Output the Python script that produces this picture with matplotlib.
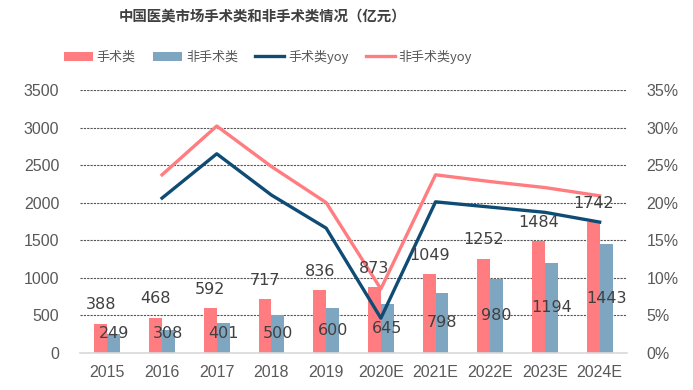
import matplotlib
matplotlib.use("Agg")
import matplotlib.pyplot as plt
import numpy as np
from matplotlib.ticker import FuncFormatter

plt.rcParams['font.family'] = ['Noto Sans CJK SC', 'DejaVu Sans']

years = ["2015", "2016", "2017", "2018", "2019", "2020E", "2021E", "2022E", "2023E", "2024E"]
surgical = [388, 468, 592, 717, 836, 873, 1049, 1252, 1484, 1742]
nonsurgical = [249, 308, 401, 500, 600, 645, 798, 980, 1194, 1443]
surgical_yoy = [None, 20.6, 26.5, 21.0, 16.6, 4.6, 20.1, 19.4, 18.7, 17.4]
nonsurgical_yoy = [None, 23.7, 30.2, 24.8, 20.0, 8.5, 23.7, 22.8, 22.0, 20.9]

red = "#FF7C80"
blue = "#7FA6C0"
dark = "#0F4C75"
pink = "#FF7C80"
txt = "#404040"
tick_c = "#595959"
num_font = ["Liberation Sans", "DejaVu Sans"]

fig = plt.figure(figsize=(6.93, 3.90), dpi=100)
ax = fig.add_axes([80/693, 1-352.7/390, (627-80)/693, (352.7-90)/390])
ax2 = ax.twinx()

x = np.arange(len(years))
w = 0.235
ax.bar(x - w/2, surgical, w, color=red, zorder=2, label="手术类")
ax.bar(x + w/2, nonsurgical, w, color=blue, zorder=2, label="非手术类")

ax.set_xlim(-0.5, len(years) - 0.5)
ax.set_ylim(0, 3500)
ax.set_yticks(np.arange(0, 3501, 500))
ax.yaxis.grid(True, linestyle=(0, (2, 1)), color="#555555", linewidth=0.8, zorder=0)
ax.set_axisbelow(True)
for s in ["top", "right", "left"]:
    ax.spines[s].set_visible(False)
ax.spines["bottom"].set_color("#D9D9D9")
ax.spines["bottom"].set_linewidth(1.2)
ax.tick_params(axis="both", length=0, labelsize=11.5, colors=tick_c)
ax.tick_params(axis="y", pad=15)
ax.tick_params(axis="x", pad=9)
ax.set_xticks(x)
ax.set_xticklabels(years, family=num_font)
for lab in ax.get_yticklabels():
    lab.set_family(num_font)

xs = [i for i, v in enumerate(surgical_yoy) if v is not None]
ax2.plot(xs, [nonsurgical_yoy[i] for i in xs], color=pink, lw=2.4, zorder=3, label="非手术类yoy")
ax2.plot(xs, [surgical_yoy[i] for i in xs], color=dark, lw=2.4, zorder=4, label="手术类yoy")
ax2.set_ylim(0, 35)
ax2.set_yticks(np.arange(0, 36, 5))
ax2.yaxis.set_major_formatter(FuncFormatter(lambda v, p: f"{int(v)}%"))
for s in ["top", "right", "left", "bottom"]:
    ax2.spines[s].set_visible(False)
ax2.tick_params(axis="y", length=0, labelsize=11.5, colors=tick_c, pad=14)
for lab in ax2.get_yticklabels():
    lab.set_family(num_font)

# data labels drawn on the top (twin) axis using the bar axis' coordinates
for i, v in enumerate(surgical):
    ax2.annotate(str(v), xy=(x[i] - w/2, v), xycoords=ax.transData, xytext=(0, 13.5),
                 textcoords="offset points", ha="center", va="center", fontsize=11.5,
                 color=txt, family=["DejaVu Sans"], annotation_clip=False, zorder=6)
for i, v in enumerate(nonsurgical):
    ypos = max(v * 0.5, 250)
    ax2.text(x[i] + w/2, ypos, str(v), transform=ax.transData, ha="center", va="center",
             fontsize=11.5, color=txt, family=["DejaVu Sans"], zorder=6)

fig.text(262/693, 1-16/390, "中国医美市场手术类和非手术类情况（亿元）", ha="center", va="center",
         fontsize=10.4, fontweight="bold", color="#404040")

h1, l1 = ax.get_legend_handles_labels()
h2, l2 = ax2.get_legend_handles_labels()
handles = [h1[0], h1[1], h2[1], h2[0]]
labels = [l1[0], l1[1], l2[1], l2[0]]
fig.legend(handles, labels, loc="center", bbox_to_anchor=(268/693, 1-57/390), ncol=4, frameon=False,
           fontsize=9.4, labelcolor=tick_c, handlelength=2.2, handleheight=0.7, columnspacing=1.35,
           handletextpad=0.3)

fig.savefig("out.png", dpi=100)
